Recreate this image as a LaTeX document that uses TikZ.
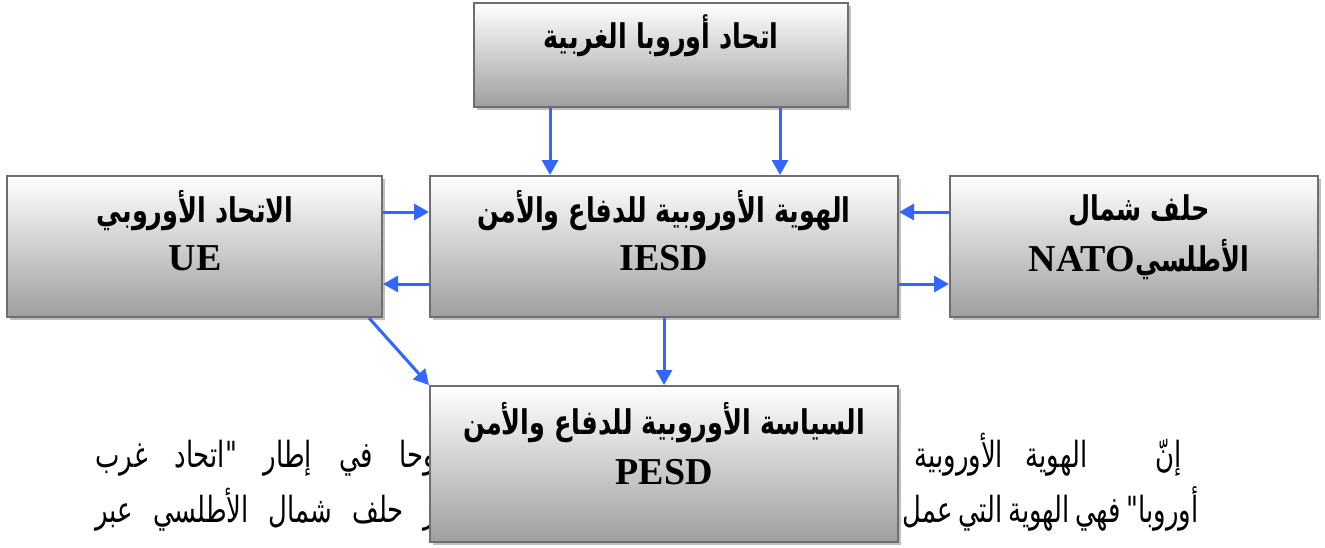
\documentclass[tikz,border=0pt]{standalone}
\usepackage{fontspec}
\setmainfont{Liberation Serif}
\newfontfamily\arabicfont[Script=Arabic,FakeStretch=0.75]{DejaVu Sans}
\newfontfamily\bodyfont[Script=Arabic,FakeStretch=0.72]{DejaVu Sans}
\TeXXeTstate=1
\usepackage{tikz}
\usetikzlibrary{arrows.meta,calc,positioning,shadows}
\definecolor{linkblue}{HTML}{3366FF}
\definecolor{boxline}{HTML}{6E6E6E}
\newcommand{\artxt}[1]{\beginR #1\endR}

\begin{document}
\begin{tikzpicture}[x=0.5pt,y=-0.5pt,
    box/.style={draw=boxline, line width=1pt, top color=white, bottom color=black!38, inner sep=0pt,
      drop shadow={shadow xshift=1.5pt,shadow yshift=-1.5pt,fill=black!25,opacity=1}},
    boxar/.style={font=\arabicfont\bfseries\fontsize{17}{20}\selectfont, inner sep=0pt},
    boxlat/.style={font=\bfseries\fontsize{19}{22}\selectfont, inner sep=0pt},
    bodytxt/.style={font=\bodyfont\fontsize{18}{21}\selectfont, inner sep=0pt},
    link/.style={draw=linkblue, line width=1.5pt, -{Triangle[length=7.5pt,width=8pt]}}]
          \useasboundingbox (0,0) rectangle (1325,547);

          % body text behind the box
          \node[bodytxt, anchor=base west] (lineAl) at (95,467) {\hbox to 170.5pt{\artxt{وحا في إطار "اتحاد غرب}}};
          \node[bodytxt, anchor=base east] (lineAr) at (1182,467) {\hbox to 133.5pt{\artxt{إنّ\ \ \ الهوية الأوروبية}}};
          \node[bodytxt, anchor=base west] (lineBl) at (95,522) {\hbox to 170.5pt{\artxt{ر حلف شمال الأطلسي عبر}}};
          \node[bodytxt, anchor=base east] (lineBr) at (1198,522) {\hbox to 147.5pt{\artxt{أوروبا" فهي الهوية التي عمل}}};

          % boxes
          \node[box, minimum width=187pt, minimum height=52pt] (weu) at (661,55) {};
          \node[box, minimum width=187.5pt, minimum height=70.5pt] (ue) at (194.5,246.5) {};
          \node[box, minimum width=234pt, minimum height=70.5pt] (iesd) at (664,246.5) {};
          \node[box, minimum width=184pt, minimum height=70.5pt] (nato) at (1134,246.5) {};
          \node[box, minimum width=234pt, minimum height=78pt] (pesd) at (664,464) {};

          % box texts
          \node[boxar] (weuAr) at (661,36) {\artxt{اتحاد أوروبا الغربية}};
          \node[boxar] (ueAr) at (195,211) {\artxt{الاتحاد الأوروبي}};
          \node[boxlat] (ueLat) at (195,258) {UE};
          \node[boxar] (iesdAr) at (664,211) {\artxt{الهوية الأوروبية للدفاع والأمن}};
          \node[boxlat] (iesdLat) at (664,258) {IESD};
          \node[boxar] (natoAr) at (1139,211) {\artxt{حلف شمال}};
          \node[boxar] (natoLat) at (1139,260) {\artxt{الأطلسي\beginL{\rmfamily\fontsize{19}{22}\selectfont NATO}\endL}};
          \node[boxar] (pesdAr) at (664,423) {\artxt{السياسة الأوروبية للدفاع والأمن}};
          \node[boxlat] (pesdLat) at (664,472) {PESD};

          % arrows
          \draw[link] (weu.south -| 550,0) -- (iesd.north -| 550,0);
          \draw[link] (weu.south -| 780,0) -- (iesd.north -| 780,0);
          \draw[link] (ue.east |- 0,212) -- (iesd.west |- 0,212);
          \draw[link] (iesd.west |- 0,284) -- (ue.east |- 0,284);
          \draw[link] (nato.west |- 0,212) -- (iesd.east |- 0,212);
          \draw[link] (iesd.east |- 0,284) -- (nato.west |- 0,284);
          \draw[link] (iesd.south) -- (pesd.north);
          \draw[link] ($(ue.south east)+(-14,0)$) -- (pesd.north west);
        \end{tikzpicture}
\end{document}
